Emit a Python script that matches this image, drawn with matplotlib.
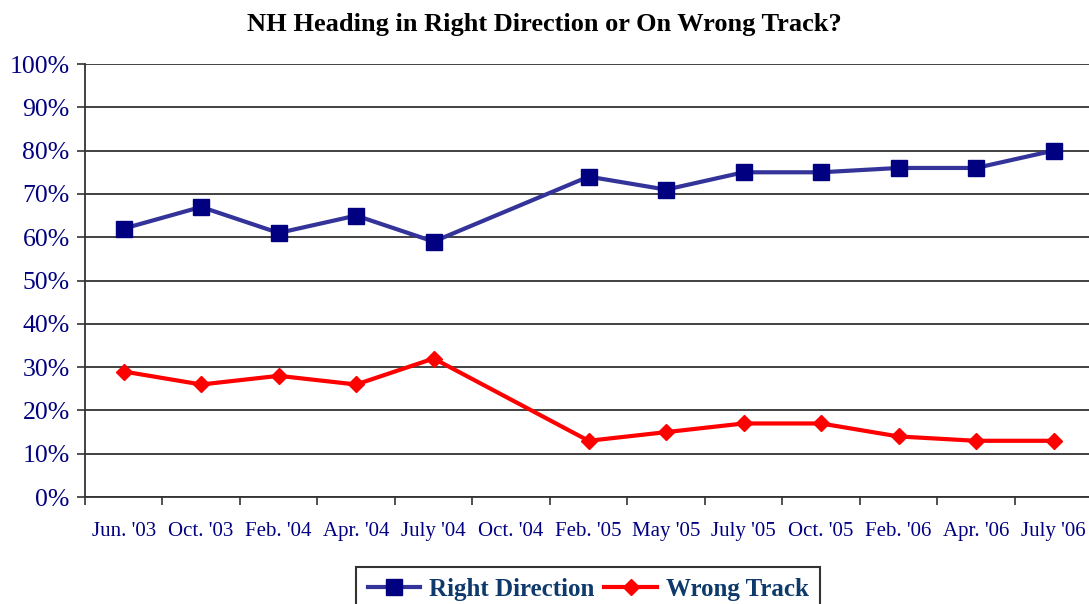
import numpy as np
import matplotlib.pyplot as plt

# Survey dates (Oct. '04 has no reading)
dates = ["Jun. '03", "Oct. '03", "Feb. '04", "Apr. '04", "July '04", "Oct. '04",
         "Feb. '05", "May '05", "July '05", "Oct. '05", "Feb. '06", "Apr. '06", "July '06"]
right_dir = [62, 67, 61, 65, 59, np.nan, 74, 71, 75, 75, 76, 76, 80]
wrong_track = [29, 26, 28, 26, 32, np.nan, 13, 15, 17, 17, 14, 13, 13]

navy = '#000080'
plt.rcParams['font.family'] = ['Liberation Serif', 'DejaVu Serif']

fig = plt.figure(figsize=(10.89, 6.04), dpi=100)
ax = fig.add_axes([0.078, 0.177, 0.925, 0.717])

x = np.arange(len(dates))
r = np.array(right_dir)
w = np.array(wrong_track)
ok = ~np.isnan(r)
ax.plot(x[ok], r[ok], color='#333399', lw=3, marker='s', ms=11,
        mfc=navy, mec=navy, label='Right Direction', zorder=3)
ok = ~np.isnan(w)
ax.plot(x[ok], w[ok], color='#ff0000', lw=3, marker='D', ms=8,
        mfc='#ff0000', mec='#ff0000', label='Wrong Track', zorder=3)

ax.set_xlim(-0.5, len(dates) - 0.5)
ax.set_ylim(0, 100)
ax.set_yticks(np.arange(0, 101, 10))
ax.set_yticklabels([f'{v}%' for v in range(0, 101, 10)], fontsize=18.5, color=navy)
ax.set_xticks(x)
ax.set_xticklabels(dates, fontsize=15, color=navy)
ax.set_xticks(np.arange(-0.5, len(dates), 1), minor=True)
ax.tick_params(axis='x', which='major', length=0, pad=18)
ax.tick_params(axis='x', which='minor', length=6, width=1.2, color='#333333')
ax.tick_params(axis='y', length=6, width=1.2, color='#333333', pad=5)
ax.grid(axis='y', color='#333333', lw=1.3)
ax.set_axisbelow(True)
for s in ['top', 'right']:
    ax.spines[s].set_visible(False)
for s in ['left', 'bottom']:
    ax.spines[s].set_color('#333333')
    ax.spines[s].set_linewidth(1.3)

fig.suptitle('NH Heading in Right Direction or On Wrong Track?', y=0.978,
             fontsize=19, fontweight='bold')

leg = fig.legend(loc='upper center', bbox_to_anchor=(0.54, 0.062), ncol=2,
                 fancybox=False, edgecolor='black', handlelength=2.1,
                 columnspacing=0.4, handletextpad=0.35, borderpad=0.45,
                 borderaxespad=0, prop={'weight': 'bold', 'size': 18})
leg.get_frame().set_linewidth(1.5)
for t in leg.get_texts():
    t.set_color('#0d3a6b')

fig.savefig('out.png', dpi=100)
